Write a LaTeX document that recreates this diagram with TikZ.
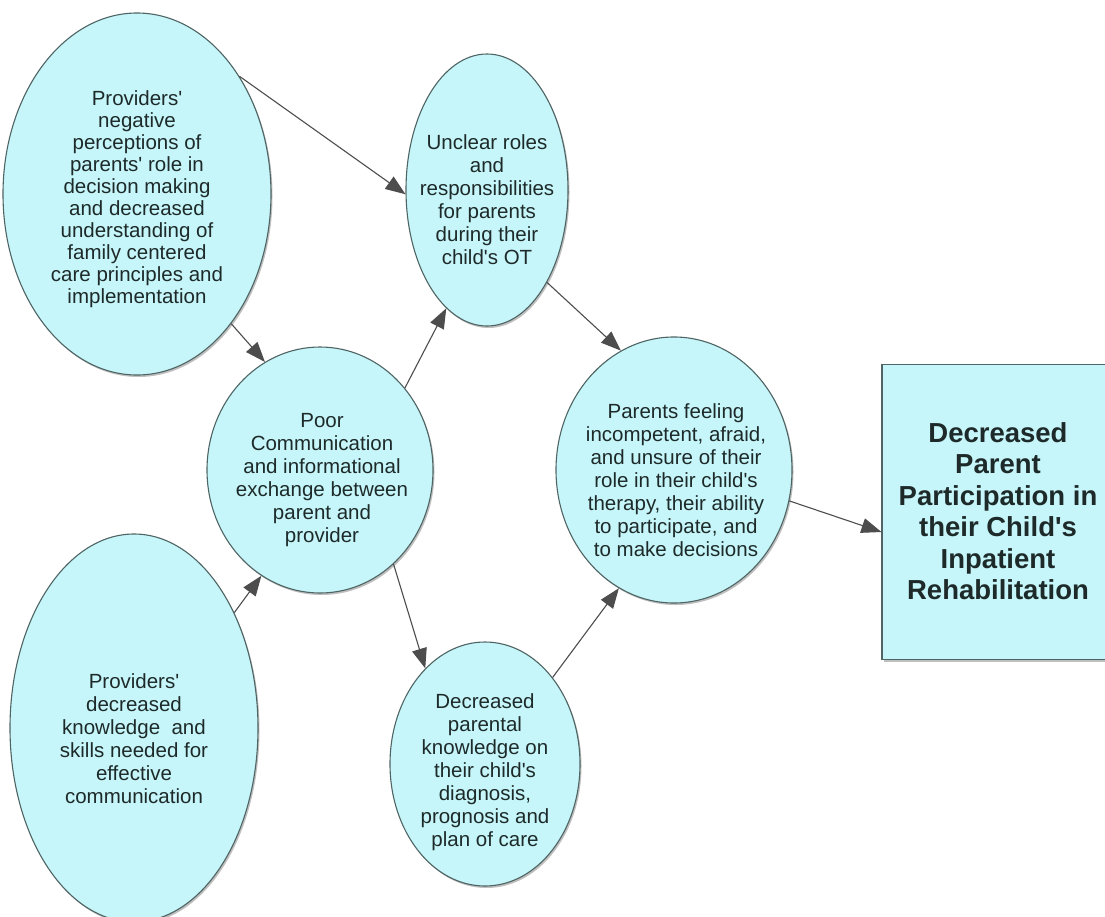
\documentclass[tikz,border=0pt]{standalone}
\usepackage{fontspec}
\setmainfont{Liberation Sans}
\usetikzlibrary{shapes.geometric,arrows.meta,shadows}
\definecolor{bubfill}{HTML}{C6F6F9}
\definecolor{bubline}{HTML}{4F6464}
\definecolor{arrc}{HTML}{4D4D4D}
\definecolor{txtc}{HTML}{1E2A2A}
\newcommand\q{\textquotesingle}
\begin{document}
\begin{tikzpicture}[x=1pt,y=-1pt,
  bub/.style={ellipse, draw=bubline, fill=bubfill, line width=1.1pt, inner sep=0pt,
    drop shadow={shadow xshift=1.5pt, shadow yshift=-2pt, fill=black!50, opacity=0.5}},
  goal/.style={rectangle, draw=bubline, fill=bubfill, line width=1.1pt, inner sep=0pt,
    drop shadow={shadow xshift=1.5pt, shadow yshift=-2pt, fill=black!50, opacity=0.5}},
  txt/.style={align=center, inner sep=0pt, text=txtc, font=\fontsize{20.5}{23}\selectfont},
  goaltxt/.style={align=center, inner sep=0pt, text=txtc, font=\fontsize{27.5}{31.5}\selectfont\bfseries},
  conn/.style={draw=arrc, line width=1.1pt, -{Triangle[length=20pt,width=15pt]}}
]
\useasboundingbox (0,0) rectangle (1105,916);
\fill[white] (0,0) rectangle (1105,916);

\node[bub, minimum width=268pt, minimum height=362pt] (tl) at (137,194) {};
\node[txt, font=\fontsize{20.5}{22}\selectfont] (tlt) at (137,199)
  {Providers\q\\negative\\perceptions of\\parents\q{} role in\\decision making\\and decreased\\understanding of\\family centered\\care principles and\\implementation};

\node[bub, minimum width=162pt, minimum height=272pt] (un) at (487,190) {};
\node[txt] (unt) at (487,200)
  {Unclear roles\\and\\responsibilities\\for parents\\during their\\child\q s OT};

\node[bub, minimum width=226pt, minimum height=246pt] (pc) at (320,470) {};
\node[txt] (pct) at (322,480)
  {Poor\\Communication\\and informational\\exchange between\\parent and\\provider};

\node[bub, minimum width=236pt, minimum height=266pt] (pf) at (674,470) {};
\node[txt] (pft) at (676,480)
  {Parents feeling\\incompetent, afraid,\\and unsure of their\\role in their child\q s\\therapy, their ability\\to participate, and\\to make decisions};

\node[bub, minimum width=248pt, minimum height=388pt] (bl) at (134,728) {};
\node[txt] (blt) at (134,739)
  {Providers\q\\decreased\\knowledge~ and\\skills needed for\\effective\\communication};

\node[bub, minimum width=190pt, minimum height=244pt] (dp) at (485,764) {};
\node[txt] (dpt) at (485,772)
  {Decreased\\parental\\knowledge on\\their child\q s\\diagnosis,\\prognosis and\\plan of care};

\node[goal, minimum width=226pt, minimum height=295pt] (gl) at (995,512) {};
\node[goaltxt] (glt) at (998,511)
  {Decreased\\Parent\\Participation in\\their Child\q s\\Inpatient\\Rehabilitation};

\draw[conn] (tl.49) -- (un.183);
\draw[conn] (tl.-54) -- (pc.117);
\draw[conn] (pc.44) -- (un.251);
\draw[conn] (un.-57) -- (pf.114);
\draw[conn] (bl.49) -- (pc.241);
\draw[conn] (pc.-52) -- (dp.122);
\draw[conn] (dp.52) -- (pf.245);
\draw[conn] (pf.-15) -- (gl.190);
\end{tikzpicture}
\end{document}
